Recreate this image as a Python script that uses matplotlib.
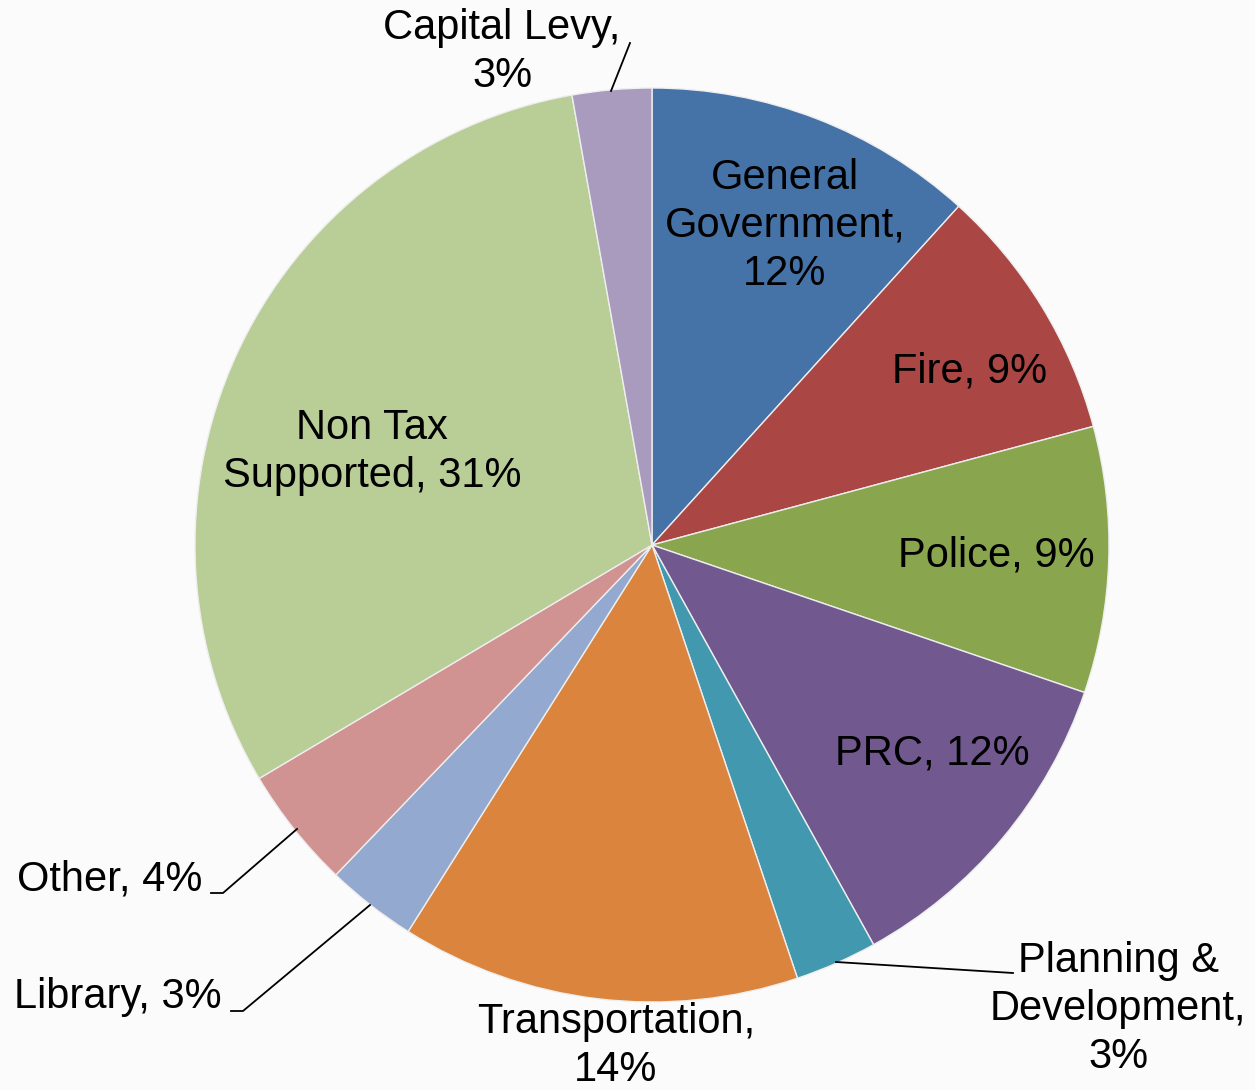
import matplotlib
matplotlib.use("Agg")
import matplotlib.pyplot as plt

# data (share of budget, %), clockwise from 12 o'clock
categories = ["General Government", "Fire", "Police", "PRC",
              "Planning & Development", "Transportation", "Library",
              "Other", "Non Tax Supported", "Capital Levy"]
shares = [11.7, 9.1, 9.4, 11.7, 2.9, 14.1, 3.2, 4.3, 30.7, 2.8]
colors = ["#4572A7", "#AA4643", "#89A54E", "#71588F", "#4198AF",
          "#DB843D", "#93A9CF", "#D19392", "#B9CD96", "#A99BBD"]

# how each label is broken into lines on the chart
label_text = ["General\nGovernment,\n{}%", "Fire, {}%", "Police, {}%",
              "PRC, {}%", "Planning &\nDevelopment,\n{}%",
              "Transportation,\n{}%", "Library, {}%", "Other, {}%",
              "Non Tax\nSupported, {}%", "Capital Levy,\n{}%"]

W, H = 1255, 1090
# layout: label centres in pixel coords (x, y from top)
label_pos = [(785, 226), (970, 372), (996, 555), (932, 753),
             (1118, 1009), (616, 1046), (118, 997), (110, 880),
             (372, 452), (502, 52)]
# leader lines (pixel coords)
leaders = {
    "Capital Levy": [(611, 91), (630, 43)],
    "Other": [(297, 829), (223, 893), (211, 893)],
    "Library": [(370, 905), (243, 1011), (231, 1011)],
    "Planning & Development": [(836, 962), (1013, 973)],
}


def main():
    plt.rcParams["font.family"] = ["Liberation Sans", "DejaVu Sans"]
    fig = plt.figure(figsize=(W / 100, H / 100), dpi=100)
    fig.patch.set_facecolor("#fbfbfb")
    ax = fig.add_axes([0, 0, 1, 1])

    ax.pie(shares, colors=colors, startangle=90, counterclock=False,
           center=(652, H - 545), radius=457, frame=True,
           wedgeprops=dict(edgecolor="#eeeeee", linewidth=1.0))
    ax.set_xlim(0, W)
    ax.set_ylim(0, H)
    ax.axis("off")

    for name, txt, val, (px, py) in zip(categories, label_text, shares, label_pos):
        ax.text(px, H - py, txt.format(round(val)), ha="center", va="center",
                fontsize=30, linespacing=1.27, color="black")

    for name, pts in leaders.items():
        xs = [p[0] for p in pts]
        ys = [H - p[1] for p in pts]
        ax.plot(xs, ys, color="black", linewidth=1.3)

    fig.savefig("out.png", dpi=100, facecolor=fig.get_facecolor())


if __name__ == "__main__":
    main()
